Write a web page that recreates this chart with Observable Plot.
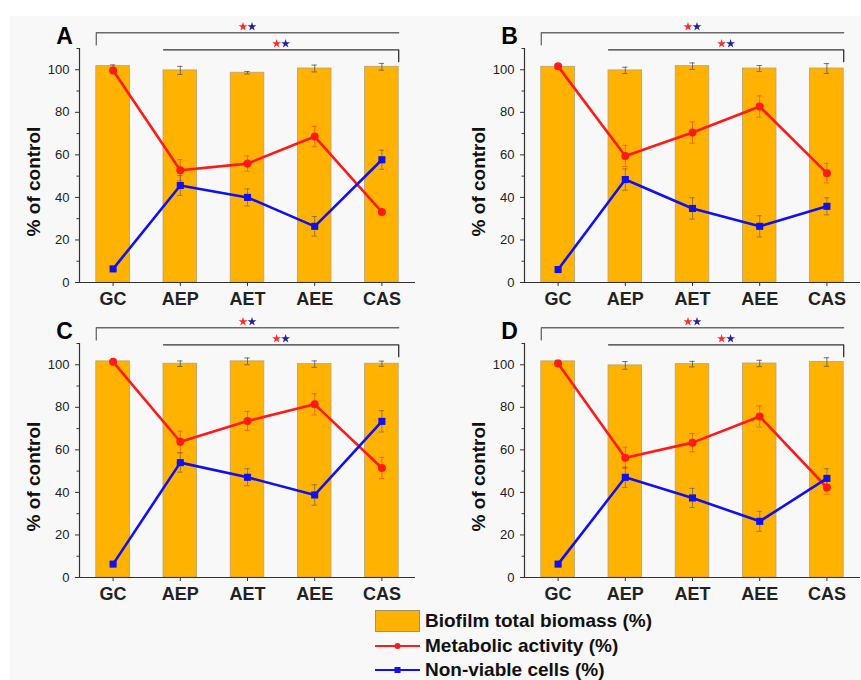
<!DOCTYPE html>
<html><head><meta charset="utf-8">
<script src="https://cdn.jsdelivr.net/npm/d3@7"></script>
<script src="https://cdn.jsdelivr.net/npm/@observablehq/plot@0.6"></script>
<style>
html,body{margin:0;padding:0;background:#fff;}
#fig{position:relative;width:861px;height:680px;overflow:hidden;font-family:"Liberation Sans",Arial,sans-serif;}
#bg{position:absolute;left:10px;top:16px;width:851px;height:664px;background:#f8f8f8;}
.panel{position:absolute;width:430px;height:320px;}
.panel svg{overflow:visible;max-width:none;}
.panel g[aria-label="x-axis tick label"] text{font-weight:bold;}
#legend{position:absolute;left:375px;top:609px;}
.row{display:flex;align-items:center;height:24.5px;font-weight:bold;font-size:19px;color:#111;white-space:nowrap;}
.row svg{margin-right:4px;}
</style></head>
<body><div id="fig"><div id="bg"></div><div id="legend"></div></div>
<script>
// ---- data ----
const categories = ["GC", "AEP", "AET", "AEE", "CAS"];
const panelLetters = ["A", "B", "C", "D"];
const yTicks = [0, 20, 40, 60, 80, 100];
const yMinorTicks = [10, 30, 50, 70, 90, 110];

// Biofilm total biomass (%) – one row per panel A, B, C, D
const biomass = [
  [101.7, 99.7, 98.6, 100.6, 101.4],
  [101.4, 99.7, 101.7, 100.6, 100.6],
  [101.6, 100.5, 101.6, 100.3, 100.5],
  [101.6, 99.7, 100.3, 100.6, 101.3]
];
const biomassErr = [
  [0.6, 1.9, 0.6, 1.6, 1.6],
  [0.6, 1.5, 1.5, 1.4, 2.3],
  [0.5, 1.3, 1.6, 1.5, 1.2],
  [0.5, 1.8, 1.3, 1.5, 2.0]
];
// Metabolic activity (%)
const metabolic = [
  [99.7, 52.8, 55.9, 68.6, 33.1],
  [101.6, 59.5, 70.5, 82.7, 51.4],
  [101.4, 63.8, 73.6, 81.4, 51.5],
  [100.6, 56.3, 63.4, 75.7, 42.3]
];
const metabolicErr = [
  [1.0, 5.0, 3.6, 4.8, 1.2],
  [0.5, 5.0, 5.0, 5.0, 4.6],
  [0.5, 5.0, 4.5, 5.0, 5.0],
  [0.8, 5.0, 4.3, 5.0, 3.2]
];
// Non-viable cells (%)
const nonviable = [
  [6.4, 45.6, 40.0, 26.4, 57.7],
  [6.1, 48.4, 34.8, 26.4, 35.8],
  [6.3, 54.0, 47.1, 38.8, 73.4],
  [6.3, 47.1, 37.4, 26.4, 46.6]
];
const nonviableErr = [
  [0.5, 4.7, 4.0, 4.6, 4.5],
  [0.5, 5.0, 5.0, 5.0, 4.0],
  [0.5, 4.5, 4.0, 4.8, 5.0],
  [0.5, 4.8, 4.5, 4.7, 4.5]
];
// significance brackets (same in every panel)
const bracketFrom = ["GC", "AEP"];
const bracketTo = ["CAS", "CAS"];
const bracketLevel = [117.4, 109.4];
const bracketDrop = [111.7, 103.8];
const bracketTip = ["start", "end"];

// ---- styles ----
const FONT = '"Liberation Sans", Arial, sans-serif';
const barFill = "#ffb300", barStroke = "#b5a27a";
const red = "#ff1a1a", blue = "#1010f0";
const half = 0.25, cap = 0.04;
const xDomain = [-0.5, 4.5];

function panel(p) {
  const rows = categories.map((c, i) => ({
    i, cat: c,
    biomass: biomass[p][i], biomassErr: biomassErr[p][i],
    metabolic: metabolic[p][i], metabolicErr: metabolicErr[p][i],
    nonviable: nonviable[p][i], nonviableErr: nonviableErr[p][i]
  }));
  const idx = c => categories.indexOf(c);
  const bracketPts = [];
  bracketFrom.forEach((f, b) => {
    const x0 = idx(f) - half, x1 = idx(bracketTo[b]) + half;
    const pts = bracketTip[b] === "start"
      ? [[x0, bracketDrop[b]], [x0, bracketLevel[b]], [x1, bracketLevel[b]]]
      : [[x0, bracketLevel[b]], [x1, bracketLevel[b]], [x1, bracketDrop[b]]];
    pts.forEach(([x, y]) => bracketPts.push({b, x, y}));
  });
  const stars = bracketFrom.map((f, b) => ({
    x: (idx(f) - half + idx(bracketTo[b]) + half) / 2, y: bracketLevel[b]
  }));
  const err = (key, ekey, color, op) => [
    Plot.ruleX(rows, {x: "i", y1: d => d[key] - d[ekey], y2: d => d[key] + d[ekey], stroke: color, strokeOpacity: op, strokeWidth: 1}),
    Plot.ruleY(rows, {x1: d => d.i - cap, x2: d => d.i + cap, y: d => d[key] + d[ekey], stroke: color, strokeOpacity: op, strokeWidth: 1}),
    Plot.ruleY(rows, {x1: d => d.i - cap, x2: d => d.i + cap, y: d => d[key] - d[ekey], stroke: color, strokeOpacity: op, strokeWidth: 1})
  ];
  return Plot.plot({
    width: 430, height: 320,
    marginLeft: 79, marginRight: 15, marginTop: 48, marginBottom: 38,
    style: {background: "transparent", overflow: "visible", fontFamily: FONT, color: "#222"},
    x: {type: "linear", domain: xDomain, axis: null},
    y: {domain: [0, 110], axis: null, label: null},
    marks: [
      Plot.rect(rows, {x1: d => d.i - half, x2: d => d.i + half, y1: 0, y2: "biomass", fill: barFill, stroke: barStroke, strokeWidth: 0.8}),
      ...err("biomass", "biomassErr", "#555", 0.8),
      ...err("metabolic", "metabolicErr", "#f03a10", 0.6),
      ...err("nonviable", "nonviableErr", "#555", 0.6),
      Plot.line(rows, {x: "i", y: "metabolic", stroke: red, strokeWidth: 2.6}),
      Plot.dot(rows, {x: "i", y: "metabolic", r: 4, fill: red, stroke: "none"}),
      Plot.line(rows, {x: "i", y: "nonviable", stroke: blue, strokeWidth: 2.6}),
      Plot.dot(rows, {x: "i", y: "nonviable", symbol: "square", r: 4, fill: blue, stroke: "none"}),
      Plot.ruleY([0], {stroke: "#333", strokeWidth: 1.2}),
      Plot.ruleX([xDomain[0]], {stroke: "#333", strokeWidth: 1.2}),
      Plot.axisY({ticks: yTicks, tickSize: 4, tickPadding: 6, fontSize: 13, label: null, stroke: "#333"}),
      Plot.axisY({ticks: yMinorTicks, tickSize: 2.5, tickFormat: () => "", label: null, stroke: "#333"}),
      Plot.axisX({ticks: d3.range(categories.length), tickFormat: i => categories[i], tickSize: 4, tickPadding: 6, fontSize: 18, fontWeight: "bold", label: null, stroke: "#333"}),
      Plot.line(bracketPts, {x: "x", y: "y", z: "b", stroke: d => d.b === 0 ? "#6a6a6a" : "#333", strokeWidth: 1.3}),
      Plot.dot(stars, {x: "x", y: "y", symbol: "star", r: 2.8, fill: "#ff2a2a", stroke: "none", dx: -4.5, dy: -6}),
      Plot.dot(stars, {x: "x", y: "y", symbol: "star", r: 2.8, fill: "#22229a", stroke: "none", dx: 4.5, dy: -6}),
      Plot.text([panelLetters[p]], {frameAnchor: "top-left", dx: -15, dy: -5, lineAnchor: "bottom", textAnchor: "middle", fontSize: 23, fontWeight: "bold", fill: "#000"}),
      Plot.text(["% of control"], {frameAnchor: "left", dx: -46, dy: 16, rotate: -90, textAnchor: "middle", fontSize: 19, fontWeight: "bold", fill: "#111"})
    ]
  });
}

const fig = document.getElementById("fig");
const offsets = [[0, 0], [445, 0], [0, 295], [445, 295]];
panelLetters.forEach((L, p) => {
  const div = document.createElement("div");
  div.className = "panel";
  div.style.left = offsets[p][0] + "px";
  div.style.top = offsets[p][1] + "px";
  div.appendChild(panel(p));
  fig.appendChild(div);
});

// ---- legend ----
const legendItems = [
  {label: "Biofilm total biomass (%)", kind: "bar"},
  {label: "Metabolic activity (%)", kind: "circle", color: red},
  {label: "Non-viable cells (%)", kind: "square", color: blue}
];
const legend = document.getElementById("legend");
legendItems.forEach(it => {
  const row = document.createElement("div");
  row.className = "row";
  let sw;
  if (it.kind === "bar") sw = `<svg width="46" height="24"><rect x="0.5" y="1.5" width="44" height="21" fill="${barFill}" stroke="#9a8f78" stroke-width="1"/></svg>`;
  else if (it.kind === "circle") sw = `<svg width="46" height="24"><line x1="0" x2="45" y1="12" y2="12" stroke="${it.color}" stroke-width="2.2"/><circle cx="22.5" cy="12" r="3" fill="${it.color}"/></svg>`;
  else sw = `<svg width="46" height="24"><line x1="0" x2="45" y1="12" y2="12" stroke="${it.color}" stroke-width="2.2"/><rect x="19.5" y="9" width="6" height="6" fill="${it.color}"/></svg>`;
  row.innerHTML = sw + `<span>${it.label}</span>`;
  legend.appendChild(row);
});
</script>
</body></html>
